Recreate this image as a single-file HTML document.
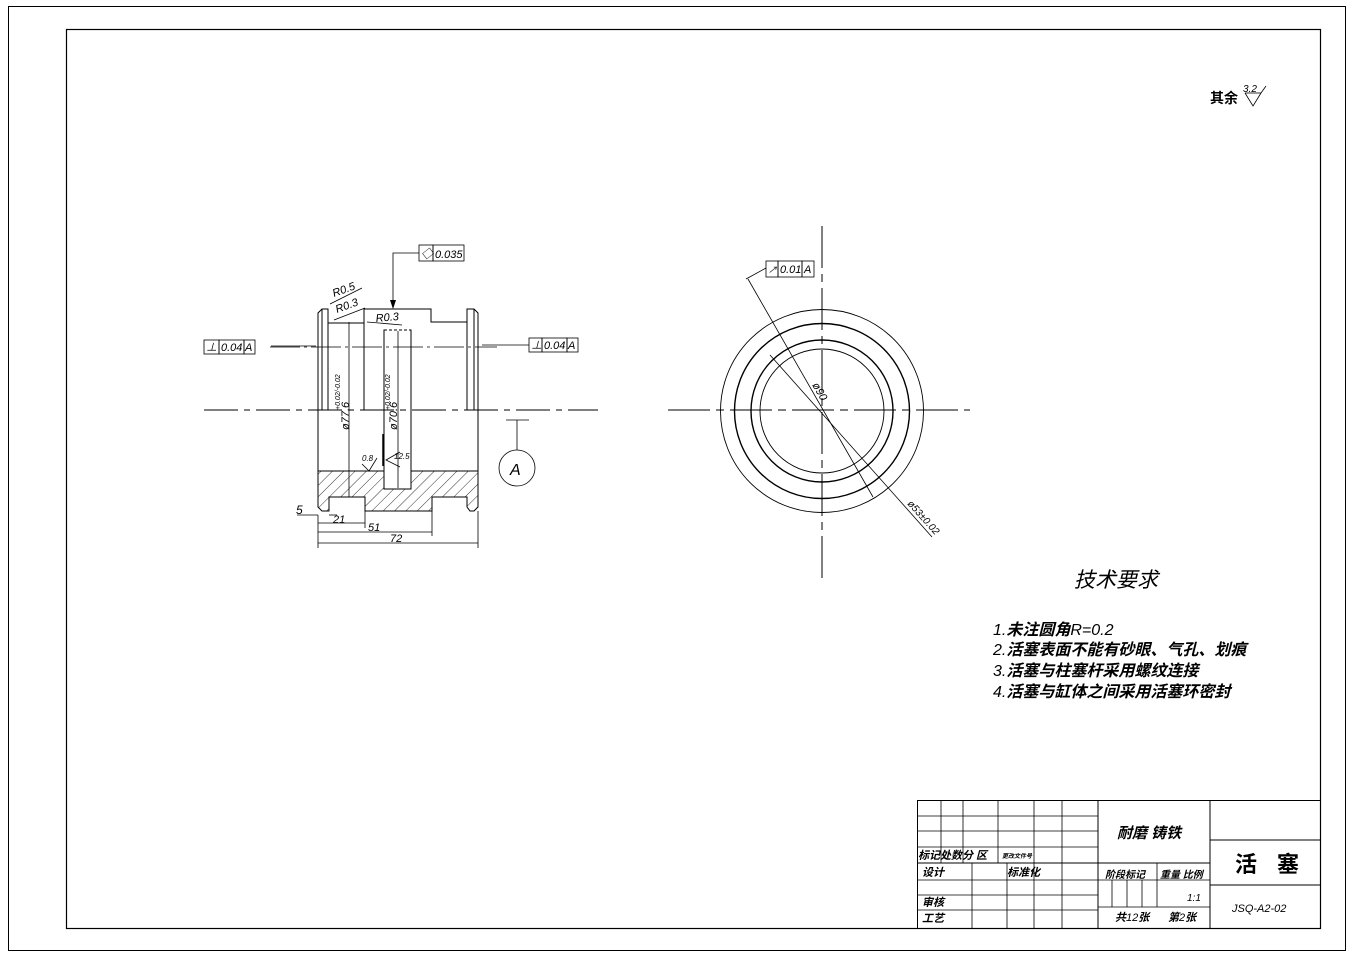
<!DOCTYPE html>
<html><head><meta charset="utf-8"><style>
html,body{margin:0;padding:0;background:#fff;}
svg{display:block;}
text{font-family:"Liberation Sans","Noto Sans CJK SC",sans-serif;fill:#000;}
.it{font-style:italic;}
</style></head><body>
<svg width="1354" height="957" viewBox="0 0 1354 957" xmlns="http://www.w3.org/2000/svg">
<defs>
<pattern id="h" patternUnits="userSpaceOnUse" width="8" height="8" patternTransform="rotate(45)">
<line x1="0" y1="0" x2="0" y2="8" stroke="#000" stroke-width="0.8"/>
</pattern>
</defs>
<rect x="0" y="0" width="1354" height="957" fill="#fff"/>
<rect x="8.5" y="6.5" width="1337" height="944" fill="none" stroke="#000" stroke-width="1"/>
<rect x="66.5" y="29.5" width="1254" height="899" fill="none" stroke="#000" stroke-width="1.2"/>

<text x="1210" y="103" font-size="14" font-weight="bold">其余</text>
<polyline points="1245,93 1253,106 1261,93 1266,86" fill="none" stroke="#000" stroke-width="0.8"/>
<line x1="1245" y1="93" x2="1261" y2="93" stroke="#000" stroke-width="0.8"/>
<text x="1243" y="92" font-size="10" class="it">3.2</text>

<g stroke="#000" fill="none" stroke-width="1">
<polygon points="318,471 478,471 478,507 474,511 470,511 467,507 467,497 432,497 432,511 365,511 365,497 329,497 329,511 322,511 318,507" fill="url(#h)" stroke="#000"/>
<polyline points="318,471 318,313 322,309 328,309 328,323 364,323 364,309 431,309 431,322 467,322 467,309 474,309 478,313 478,471"/>
<line x1="322" y1="309" x2="322" y2="410"/>
<line x1="328" y1="323" x2="328" y2="410"/>
<line x1="364" y1="309" x2="364" y2="410"/>
<line x1="467" y1="322" x2="467" y2="410"/>
<line x1="474" y1="309" x2="474" y2="410"/>
<rect x="384" y="330" width="27" height="159" fill="#fff"/>
<line x1="384" y1="330" x2="411" y2="330" stroke="#fff"/>
<line x1="384" y1="330" x2="411" y2="330" stroke-dasharray="3,2"/>
</g>
<line x1="204" y1="410" x2="598" y2="410" stroke="#000" stroke-width="1" stroke-dasharray="34,6,6,6"/>
<line x1="270" y1="347" x2="497" y2="347" stroke="#000" stroke-width="0.8" stroke-dasharray="30,4,3,4"/>
<g stroke="#000" fill="none" stroke-width="0.8">
<rect x="204" y="340" width="15" height="14"/><rect x="219" y="340" width="25" height="14"/><rect x="244" y="340" width="11" height="14"/>
<rect x="529" y="338" width="13" height="14"/><rect x="542" y="338" width="25" height="14"/><rect x="567" y="338" width="11" height="14"/>
<line x1="271" y1="346" x2="316" y2="346"/>
<line x1="529" y1="345" x2="482" y2="345"/>
<rect x="419" y="245" width="14" height="16"/><rect x="433" y="245" width="31" height="16"/>
<polyline points="419,253 393,253 393,308"/>
<line x1="330" y1="304" x2="362" y2="288"/>
<line x1="334" y1="320" x2="365" y2="308"/>
<line x1="367" y1="322" x2="402" y2="325"/>
<line x1="349" y1="322" x2="349" y2="497"/>
<line x1="398" y1="331" x2="398" y2="488"/>
<line x1="318" y1="515" x2="318" y2="548"/>
<line x1="478" y1="511" x2="478" y2="548"/>
<line x1="432" y1="511" x2="432" y2="536"/>
<line x1="365" y1="511" x2="365" y2="528"/>
<line x1="318" y1="523" x2="365" y2="523"/>
<line x1="318" y1="532" x2="432" y2="532"/>
<line x1="318" y1="543" x2="478" y2="543"/>
<line x1="297" y1="515" x2="318" y2="515"/>
<line x1="329" y1="515" x2="337" y2="515"/>
<line x1="506" y1="420" x2="529" y2="420"/>
<line x1="517" y1="420" x2="517" y2="450"/>
<circle cx="517" cy="468" r="18"/>
<polyline points="362,464 369,471 377,458"/>
<line x1="383" y1="434" x2="383" y2="466" stroke-width="1.5"/>
<polyline points="400,452 386,460 400,467"/>
</g>
<polygon points="390,300 396,300 393,309" fill="#000"/>
<g font-size="11" class="it">
<text x="221" y="351">0.04</text><text x="245" y="351">A</text>
<text x="206" y="351">⊥</text>
<text x="544" y="349">0.04</text><text x="568" y="349">A</text>
<text x="531" y="349">⊥</text>
<text x="421" y="258" font-size="12">◇</text><text x="435" y="258">0.035</text>
<text x="334" y="297" transform="rotate(-20 334 297)">R0.5</text>
<text x="337" y="313" transform="rotate(-20 337 313)">R0.3</text>
<text x="376" y="322" transform="rotate(-5 376 322)">R0.3</text>
<text x="349" y="430" transform="rotate(-90 349 430)">ø77.6</text>
<text x="397" y="430" transform="rotate(-90 397 430)">ø70.6</text>
<text x="340" y="410" font-size="7" transform="rotate(-90 340 410)">+0.02/-0.02</text>
<text x="390" y="410" font-size="7" transform="rotate(-90 390 410)">+0.02/-0.02</text>
<text x="362" y="461" font-size="8">0.8</text>
<text x="394" y="459" font-size="8">12.5</text>
<text x="296" y="514" font-size="12">5</text>
<text x="333" y="523">21</text>
<text x="368" y="531">51</text>
<text x="390" y="542">72</text>
<text x="510" y="475" font-size="16">A</text>
</g>

<g stroke="#000" fill="none">
<circle cx="822" cy="411" r="101.5" stroke-width="0.9"/>
<circle cx="822" cy="411" r="87.5" stroke-width="1.4"/>
<circle cx="822" cy="411" r="71" stroke-width="1.4"/>
<circle cx="822" cy="411" r="62" stroke-width="0.9"/>
<line x1="668" y1="410" x2="970" y2="410" stroke-width="1" stroke-dasharray="42,6,8,6"/>
<line x1="822" y1="226" x2="822" y2="578" stroke-width="1" stroke-dasharray="42,6,8,6"/>
<line x1="748" y1="279" x2="873" y2="497" stroke-width="0.8"/>
<line x1="770" y1="355" x2="932" y2="537" stroke-width="0.8"/>
<polyline points="746,279 766,268" stroke-width="0.8"/>
<rect x="766" y="261" width="12" height="16" stroke-width="0.8"/>
<rect x="778" y="261" width="24" height="16" stroke-width="0.8"/>
<rect x="802" y="261" width="12" height="16" stroke-width="0.8"/>
</g>
<g font-size="11" class="it">
<text x="780" y="273">0.01</text><text x="804" y="273">A</text>
<text x="768" y="273" font-size="9">↗</text>
<text x="812" y="385" transform="rotate(60 812 385)">ø90</text>
<text x="907" y="504" font-size="10" transform="rotate(48 907 504)">ø53±0.02</text>
</g>

<text x="1074" y="587" font-size="21" class="it">技术要求</text>
<g font-size="16" class="it" font-weight="bold">
<text x="993" y="635"><tspan font-weight="normal">1.</tspan>未注圆角<tspan font-weight="normal">R=0.2</tspan></text>
<text x="993" y="655"><tspan font-weight="normal">2.</tspan>活塞表面不能有砂眼、气孔、划痕</text>
<text x="993" y="676"><tspan font-weight="normal">3.</tspan>活塞与柱塞杆采用螺纹连接</text>
<text x="993" y="697"><tspan font-weight="normal">4.</tspan>活塞与缸体之间采用活塞环密封</text>
</g>

<g stroke="#000" fill="none" stroke-width="1">
<rect x="917.5" y="800.5" width="403" height="128"/>
<line x1="1098" y1="800" x2="1098" y2="928"/>
<line x1="1210" y1="800" x2="1210" y2="928"/>
<line x1="917" y1="816" x2="1098" y2="816" stroke-width="0.8"/>
<line x1="917" y1="831" x2="1098" y2="831" stroke-width="0.8"/>
<line x1="917" y1="847" x2="1098" y2="847" stroke-width="0.8"/>
<line x1="917" y1="863" x2="1098" y2="863"/>
<line x1="917" y1="880" x2="1098" y2="880" stroke-width="0.8"/>
<line x1="917" y1="895" x2="1098" y2="895" stroke-width="0.8"/>
<line x1="917" y1="910" x2="1098" y2="910" stroke-width="0.8"/>
<line x1="941" y1="800" x2="941" y2="863" stroke-width="0.8"/>
<line x1="963" y1="800" x2="963" y2="863" stroke-width="0.8"/>
<line x1="998" y1="800" x2="998" y2="863" stroke-width="0.8"/>
<line x1="1034" y1="800" x2="1034" y2="928" stroke-width="0.8"/>
<line x1="1062" y1="800" x2="1062" y2="928" stroke-width="0.8"/>
<line x1="972" y1="863" x2="972" y2="928" stroke-width="0.8"/>
<line x1="1007" y1="863" x2="1007" y2="928" stroke-width="0.8"/>
<line x1="1098" y1="863" x2="1210" y2="863"/>
<line x1="1098" y1="880" x2="1210" y2="880" stroke-width="0.8"/>
<line x1="1098" y1="907" x2="1210" y2="907" stroke-width="0.8"/>
<line x1="1157" y1="863" x2="1157" y2="907" stroke-width="0.8"/>
<line x1="1112" y1="880" x2="1112" y2="907" stroke-width="0.8"/>
<line x1="1127" y1="880" x2="1127" y2="907" stroke-width="0.8"/>
<line x1="1142" y1="880" x2="1142" y2="907" stroke-width="0.8"/>
<line x1="1210" y1="840" x2="1320" y2="840"/>
<line x1="1210" y1="885" x2="1320" y2="885"/>
</g>
<g font-weight="bold" class="it">
<text x="918" y="859" font-size="11">标记处数分 区</text>
<text x="1002" y="858" font-size="6">更改文件号</text>
<text x="922" y="876" font-size="11">设计</text>
<text x="1007" y="876" font-size="11">标准化</text>
<text x="922" y="906" font-size="11">审核</text>
<text x="922" y="922" font-size="11">工艺</text>
<text x="1117" y="838" font-size="15">耐磨 铸铁</text>
<text x="1105" y="878" font-size="10">阶段标记</text>
<text x="1160" y="878" font-size="10">重量 比例</text>
<text x="1115" y="921" font-size="11">共<tspan font-weight="normal">12</tspan>张</text>
<text x="1168" y="921" font-size="11">第<tspan font-weight="normal">2</tspan>张</text>
<text x="1235" y="872" font-size="22" font-style="normal">活</text>
<text x="1277" y="872" font-size="22" font-style="normal">塞</text>
</g>
<text x="1187" y="901" font-size="10" class="it">1:1</text>
<text x="1232" y="912" font-size="11" class="it">JSQ-A2-02</text>
</svg>
</body></html>
